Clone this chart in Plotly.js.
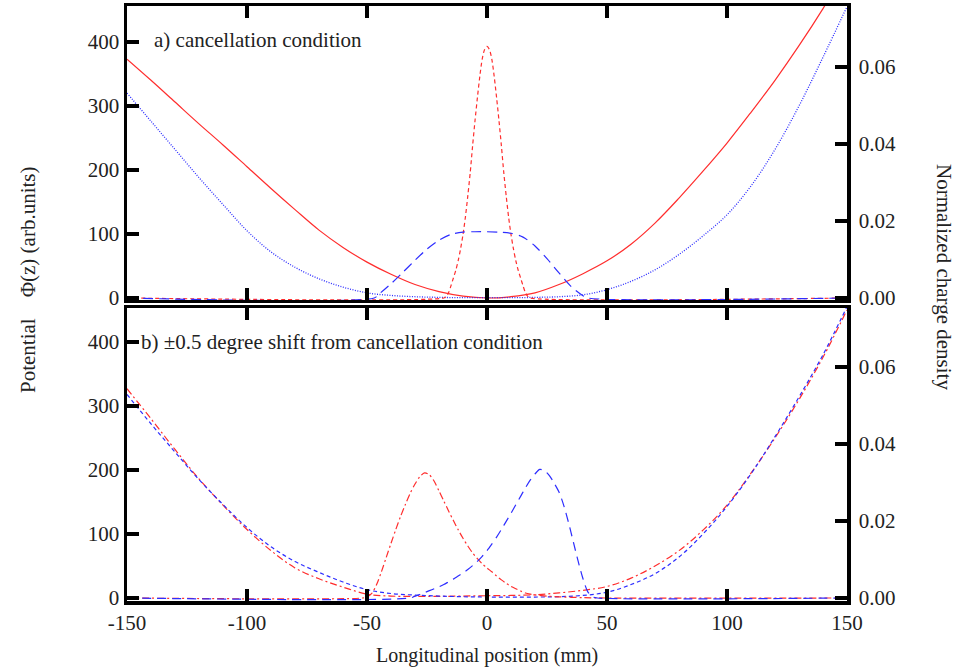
<!DOCTYPE html>
<html>
<head>
<meta charset="utf-8">
<script src="https://cdn.plot.ly/plotly-3.0.1.min.js"></script>
<style>html,body{margin:0;padding:0;background:#fff;}#plot{width:967px;height:668px;}</style>
</head>
<body>
<div id="plot"></div>
<script>
// ---- Data ----
// Panel a) potentials (left axis, arb. units)
const xPot = [-150,-140,-130,-120,-110,-100,-90,-80,-70,-60,-50,-40,-30,-20,-10,0,10,20,30,40,50,60,70,80,90,100,110,120,130,140,150];
const potA = [373,340,306,272,239,205,171,138,106,79,56,37,21,10,3,0,2,8,21,38,58,84,117,156,198,242,290,340,394,452,515];
const potB = [320,276,232,188,146,105,72,48,30,17,8,4,2,1,0.5,0.5,0.5,1,2,5,13,26,44,68,97,130,175,232,300,376,455];
// Panel a) charge densities (right axis)
const xDenA = [-150,-18,-17,-16,-15,-14,-13,-12,-11,-10,-9,-8,-7,-6,-5,-4,-3,-2,-1,0,1,2,3,4,5,6,7,8,9,10,11,12,13,14,15,16,17,18,150];
const denA = [0,0,0.0004,0.0014,0.0032,0.0052,0.0072,0.0097,0.0128,0.0165,0.021,0.0265,0.0325,0.0395,0.046,0.052,0.0575,0.062,0.0645,0.0653,0.0645,0.062,0.0575,0.052,0.046,0.0395,0.0325,0.0265,0.021,0.0165,0.0128,0.0097,0.0072,0.0052,0.0032,0.0014,0.0004,0,0];
const xDenB = [-150,-47,-45,-40,-35,-30,-25,-20,-15,-10,-5,0,5,10,15,20,25,30,35,40,42,150];
const denB = [0,0,0.001,0.0037,0.0067,0.0098,0.0127,0.015,0.0165,0.0171,0.0172,0.0172,0.0171,0.0168,0.0158,0.0135,0.0102,0.0065,0.003,0.0006,0,0];
// Panel b) potentials
const potC = [327,280,232,186,145,107,74,47,30,17,6,3,2.5,2.5,3,3.5,4,5,8,12,18,31,50,74,106,145,195,250,310,376,450];
const potD = [318,272,228,185,146,110,80,57,40,25,13,7,4.5,3,2,1.5,1.5,1.5,2,4,9,21,38,64,100,143,194,252,314,380,455];
// Panel b) charge densities
const xDenC = [-150,-52,-50,-48,-46,-44,-42,-40,-38,-36,-34,-32,-30,-28,-26,-24,-22,-20,-18,-16,-14,-12,-10,-8,-6,-4,-2,0,2,4,6,8,10,12,14,16,18,20,25,30,40,50,150];
const denC = [0,0,0.0003,0.0012,0.0035,0.0068,0.0105,0.0142,0.0178,0.0212,0.0243,0.0272,0.0296,0.0315,0.0325,0.032,0.0303,0.0278,0.0252,0.0226,0.0201,0.0177,0.0155,0.0135,0.0117,0.0102,0.0089,0.0078,0.0068,0.0057,0.0047,0.0038,0.003,0.0024,0.0018,0.0013,0.001,0.0008,0.0005,0.0003,0.0001,0,0];
const xDenD = [-150,-32,-30,-28,-26,-24,-22,-20,-18,-16,-14,-12,-10,-8,-6,-4,-2,0,2,4,6,8,10,12,14,16,18,20,22,24,26,28,30,32,34,36,38,40,42,44,46,150];
const denD = [0,0,0.0005,0.0009,0.0014,0.0019,0.0024,0.0029,0.0035,0.0042,0.0049,0.0057,0.0065,0.0074,0.0084,0.0095,0.0108,0.0123,0.014,0.0158,0.0178,0.0199,0.022,0.0242,0.0264,0.0286,0.0306,0.0322,0.0334,0.033,0.0318,0.0298,0.0275,0.024,0.0195,0.0145,0.0095,0.005,0.0016,0.0003,0,0];

const xTicks = [-150,-100,-50,0,50,100,150];
const potTicks = [0,100,200,300,400];
const denTicks = [0,0.02,0.04,0.06];

const RED = 'rgb(255,45,45)';
const BLUE = 'rgb(45,45,255)';
const FONT = 'Liberation Serif, Times New Roman, serif';
const FS = 21;

function tr(x, y, xa, ya, color, dash, w, sm) {
  return {x: x, y: y, xaxis: xa, yaxis: ya, type: 'scatter', mode: 'lines',
    line: {color: color, dash: dash, width: w || 1.2, shape: 'spline', smoothing: sm || 1},
    hoverinfo: 'skip', showlegend: false};
}

const data = [
  tr(xPot, potA, 'x2', 'y2', RED, 'solid'),
  tr(xPot, potB, 'x2', 'y2', BLUE, '1px,1.5px', 1.3),
  tr(xDenA, denA, 'x2', 'y4', RED, '4px,3px', 1.2, 0.8),
  tr(xDenB, denB, 'x2', 'y4', BLUE, '10px,6px', 1.2, 0.8),
  tr(xPot, potC, 'x', 'y', RED, '7px,3px,2px,3px'),
  tr(xPot, potD, 'x', 'y', BLUE, '4px,3px'),
  tr(xDenC, denC, 'x', 'y3', RED, '7px,3px,2px,3px', 1.2, 0.8),
  tr(xDenD, denD, 'x', 'y3', BLUE, '9px,6px', 1.2, 0.8)
];

const tickFont = {family: FONT, size: FS, color: '#222'};
const axBase = {showline: true, linecolor: '#000', linewidth: 3.5, ticks: 'inside', ticklen: 12,
  tickwidth: 3.5, tickcolor: '#000', showgrid: false, zeroline: false, tickfont: tickFont};

const topDom = [0.5059, 1];
const botDom = [0, 0.4924];

const annFont = {family: FONT, size: FS, color: '#222'};

const layout = {
  width: 967, height: 668,
  margin: {l: 127, r: 120, t: 6, b: 67, pad: 0},
  paper_bgcolor: '#fff', plot_bgcolor: '#fff',
  showlegend: false,
  font: {family: FONT, size: FS, color: '#222'},
  xaxis: Object.assign({}, axBase, {range: [-150, 150], tickvals: xTicks, ticktext: xTicks.map(String),
    mirror: 'ticks', anchor: 'y', domain: [0, 1]}),
  xaxis2: Object.assign({}, axBase, {range: [-150, 150], tickvals: xTicks, showticklabels: false,
    mirror: 'ticks', anchor: 'y2', domain: [0, 1]}),
  yaxis: Object.assign({}, axBase, {range: [-4.7, 453], tickvals: potTicks, domain: botDom, anchor: 'x'}),
  yaxis2: Object.assign({}, axBase, {range: [-3.1, 456], tickvals: potTicks, domain: topDom, anchor: 'x2'}),
  yaxis3: Object.assign({}, axBase, {range: [-0.00078, 0.0753], tickvals: denTicks, tickformat: '.2f',
    overlaying: 'y', side: 'right', anchor: 'x', ticklabelstandoff: 4}),
  yaxis4: Object.assign({}, axBase, {range: [-0.00052, 0.0758], tickvals: denTicks, tickformat: '.2f',
    overlaying: 'y2', side: 'right', anchor: 'x2', ticklabelstandoff: 4}),
  annotations: [
    {text: 'a) cancellation condition', xref: 'paper', yref: 'paper', x: 0.0347, y: 0.9429,
      xanchor: 'left', yanchor: 'middle', showarrow: false, font: annFont},
    {text: 'b) ±0.5 degree shift from cancellation condition', xref: 'paper', yref: 'paper', x: 0.0167, y: 0.4353,
      xanchor: 'left', yanchor: 'middle', showarrow: false, font: annFont},
    {text: 'Potential\u00a0\u00a0\u00a0 Φ(z) (arb.units)', xref: 'paper', yref: 'paper', x: -0.1375, y: 0.5395,
      xanchor: 'center', yanchor: 'middle', textangle: -90, showarrow: false, font: annFont},
    {text: 'Normalized charge density', xref: 'paper', yref: 'paper', x: 1.1347, y: 0.5445,
      xanchor: 'center', yanchor: 'middle', textangle: 90, showarrow: false, font: annFont},
    {text: 'Longitudinal position (mm)', xref: 'paper', yref: 'paper', x: 0.5, y: -0.1126,
      xanchor: 'center', yanchor: 'bottom', showarrow: false, borderpad: 0,
      font: {family: FONT, size: 20, color: '#222'}}
  ]
};

Plotly.newPlot('plot', data, layout, {displayModeBar: false, staticPlot: true});
</script>
</body>
</html>
